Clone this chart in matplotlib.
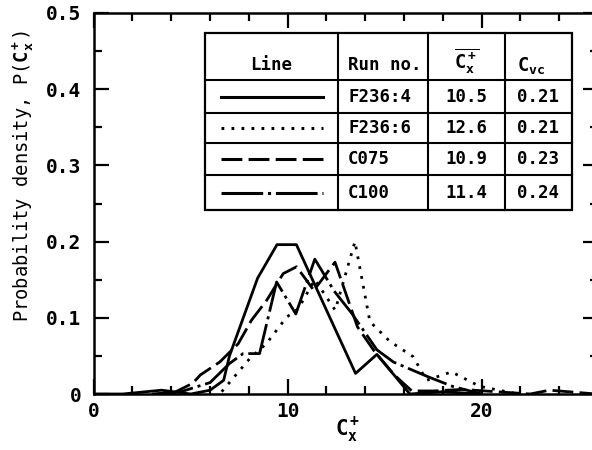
import numpy as np
import matplotlib
matplotlib.use("Agg")
from matplotlib import pyplot as plt
from matplotlib.lines import Line2D
from matplotlib.patches import Rectangle
from matplotlib.transforms import Affine2D

plt.rcParams['font.family'] = ['DejaVu Sans Mono', 'DejaVu Sans']
plt.rcParams['font.weight'] = 'bold'
plt.rcParams['mathtext.fontset'] = 'custom'
plt.rcParams['mathtext.rm'] = 'DejaVu Sans Mono:bold'
plt.rcParams['mathtext.it'] = 'DejaVu Sans Mono:bold'
plt.rcParams['mathtext.bf'] = 'DejaVu Sans Mono:bold'
plt.rcParams['lines.scale_dashes'] = False

# F236:4 (solid)
x_f4 = [0, 1.5, 3.5, 5.0, 6.0, 6.7, 7.0, 8.45, 9.45, 10.45, 13.5, 14.6, 16.3, 18.0, 20.0]
y_f4 = [0, 0, 0.005, 0, 0.005, 0.018, 0.05, 0.152, 0.196, 0.196, 0.027, 0.052, 0, 0.003, 0]

# F236:6 (dotted)
x_f6 = [6.6, 8.06, 8.9, 9.95, 10.55, 11.4, 12.45, 13.47, 14.24, 15.27, 16.47, 17.16, 18.45, 19.9, 20.9, 21.9]
y_f6 = [0.003, 0.047, 0.066, 0.101, 0.112, 0.15, 0.11, 0.2, 0.095, 0.069, 0.049, 0.018, 0.029, 0.01, 0.005, 0]

# C075 (dashed)
x_c75 = [4.0, 5.1, 5.5, 6.5, 7.45, 8.14, 8.92, 9.77, 10.46, 11.35, 12.44, 13.6, 14.5, 15.5, 16.4, 17.5, 19.0, 22.5, 23.5, 25.9]
y_c75 = [0, 0.014, 0.025, 0.042, 0.066, 0.097, 0.123, 0.158, 0.167, 0.136, 0.173, 0.088, 0.055, 0.025, 0.004, 0.004, 0.006, 0, 0.005, 0]

# C100 (dash-dot)
x_c100 = [3.0, 4.5, 6.0, 7.0, 7.7, 8.55, 9.43, 10.42, 11.4, 12.4, 13.3, 14.6, 15.45, 17.2, 18.5, 20.0]
y_c100 = [0, 0.003, 0.015, 0.04, 0.053, 0.053, 0.147, 0.105, 0.177, 0.135, 0.106, 0.058, 0.042, 0.023, 0.01, 0]

runs = ["F236:4", "F236:6", "C075", "C100"]
cx_mean = ["10.5", "12.6", "10.9", "11.4"]
cvc = ["0.21", "0.21", "0.23", "0.24"]

styles = ['-', (0, (2, 5.2)), (0, (15, 4.5)), (0, (30, 3.5, 2.2, 3.5))]
series = [(x_f4, y_f4), (x_f6, y_f6), (x_c75, y_c75), (x_c100, y_c100)]

W, H = 592, 450
fig = plt.figure(figsize=(W / 100, H / 100), dpi=100)
ax = fig.add_axes([93.7 / W, 56 / H, (598 - 93.7) / W, 381 / H])

for (xs, ys), ls in zip(series, styles):
    ax.plot(xs, ys, color='black', lw=2.0, linestyle=ls)

ax.set_xlim(0, 26)
ax.set_ylim(0, 0.5)
ax.set_xticks([0, 10, 20])
ax.set_xticks(np.arange(0, 26, 2), minor=True)
ax.set_yticks([0, 0.1, 0.2, 0.3, 0.4, 0.5])
ax.set_yticklabels(['0', '0.1', '0.2', '0.3', '0.4', '0.5'])
ax.set_yticks(np.arange(0, 0.5, 0.05), minor=True)
ax.tick_params(which='both', direction='in', top=True, right=True, width=1.6,
               labelsize=14)
ax.tick_params(which='major', length=11)
ax.tick_params(which='minor', length=5.5)
ax.tick_params(axis='y', pad=9)
ax.tick_params(axis='x', pad=6)
for sp in ax.spines.values():
    sp.set_linewidth(1.8)

# pixel coordinates (y down) for the text and the table
pix = Affine2D().scale(1 / W, -1 / H).translate(0, 1) + fig.transFigure

fig.text(23 / W, 1 - 176 / H, r'Probability density, P($\mathrm{C}_\mathrm{x}^+$)',
         rotation=90, ha='center', va='center', fontsize=13.5, fontweight='normal')
fig.text(347 / W, 1 - 430 / H, r'$\mathrm{C}_\mathrm{x}^+$', ha='center', va='center',
         fontsize=15)

# table
cols = [205, 338, 428, 505, 572]
rows = [33, 80, 113, 143, 175, 210]
ax.add_patch(Rectangle((cols[0], rows[0]), cols[-1] - cols[0], rows[-1] - rows[0],
                       transform=pix, facecolor='white', edgecolor='black', lw=1.6,
                       zorder=5, clip_on=False))
for c in cols[1:-1]:
    ax.add_line(Line2D([c, c], [rows[0], rows[-1]], transform=pix, color='black',
                       lw=1.5, zorder=6, clip_on=False))
for r in rows[1:-1]:
    ax.add_line(Line2D([cols[0], cols[-1]], [r, r], transform=pix, color='black',
                       lw=1.5, zorder=6, clip_on=False))

fs = 12.5
hy = 65
ax.text((cols[0] + cols[1]) / 2, hy, 'Line', transform=pix, ha='center', va='center',
        fontsize=fs, zorder=7)
ax.text(348, hy, 'Run no.', transform=pix, ha='left', va='center', fontsize=fs, zorder=7)
ax.text((cols[2] + cols[3]) / 2, hy - 4, r'$\overline{\mathrm{C}_\mathrm{x}^+}$', transform=pix,
        ha='center', va='center', fontsize=fs + 1, zorder=7)
ax.text(531, hy + 1, r'$\mathrm{C}_\mathrm{vc}$', transform=pix, ha='center', va='center',
        fontsize=fs + 1, zorder=7)

for i in range(4):
    yc = (rows[i + 1] + rows[i + 2]) / 2
    ax.add_line(Line2D([221, 323], [yc, yc], transform=pix, color='black', lw=2.2,
                       linestyle=styles[i], zorder=7, clip_on=False))
    ax.text(348, yc, runs[i], transform=pix, ha='left', va='center', fontsize=fs, zorder=7)
    ax.text((cols[2] + cols[3]) / 2, yc, cx_mean[i], transform=pix, ha='center',
            va='center', fontsize=fs, zorder=7)
    ax.text(538, yc, cvc[i], transform=pix, ha='center', va='center', fontsize=fs, zorder=7)

fig.savefig('out.png', dpi=100)
